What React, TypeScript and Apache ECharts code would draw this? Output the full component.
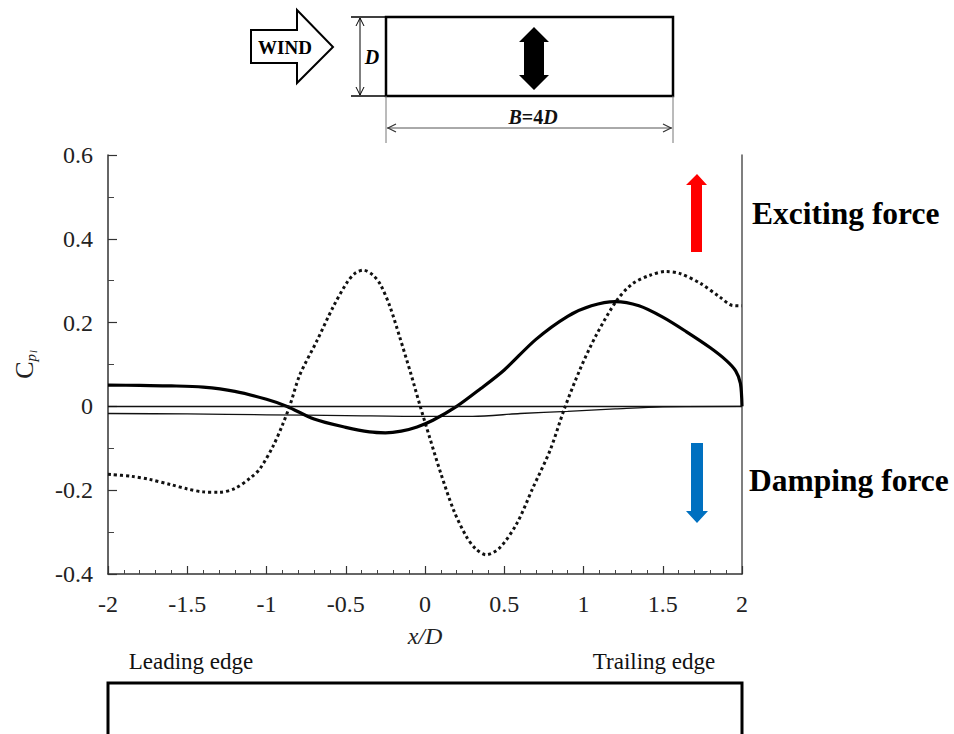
import React, { useEffect, useRef } from "react";
import * as echarts from "echarts";

// x/D positions and Cp values
const solidCurve: [number, number][] = [
  [-2, 0.051], [-1.8, 0.05], [-1.6, 0.049], [-1.4, 0.046], [-1.2, 0.036], [-1.0, 0.017],
  [-0.87, 0], [-0.7, -0.03], [-0.5, -0.05], [-0.35, -0.061], [-0.25, -0.063], [-0.15, -0.059],
  [-0.05, -0.049], [0.05, -0.033], [0.2, 0], [0.35, 0.042], [0.5, 0.087], [0.7, 0.16],
  [0.9, 0.215], [1.05, 0.24], [1.2, 0.25], [1.35, 0.24], [1.5, 0.213], [1.65, 0.178],
  [1.8, 0.14], [1.9, 0.11], [1.96, 0.085], [1.99, 0.055], [2.0, 0],
];

const dottedCurve: [number, number][] = [
  [-2, -0.162], [-1.85, -0.167], [-1.74, -0.174], [-1.6, -0.187], [-1.5, -0.197], [-1.4, -0.204],
  [-1.3, -0.205], [-1.2, -0.196], [-1.1, -0.17], [-1.04, -0.148], [-0.96, -0.096], [-0.9, -0.045],
  [-0.85, 0.005], [-0.79, 0.075], [-0.68, 0.158], [-0.58, 0.237], [-0.49, 0.297], [-0.44, 0.318],
  [-0.39, 0.325], [-0.33, 0.314], [-0.28, 0.29], [-0.22, 0.237], [-0.16, 0.166], [-0.09, 0.079],
  [-0.03, 0], [0.03, -0.075], [0.1, -0.16], [0.18, -0.247], [0.26, -0.31], [0.32, -0.34],
  [0.385, -0.354], [0.47, -0.338], [0.58, -0.279], [0.68, -0.195], [0.79, -0.104], [0.88, -0.005],
  [0.98, 0.09], [1.08, 0.17], [1.21, 0.253], [1.31, 0.293], [1.42, 0.313], [1.52, 0.322],
  [1.61, 0.317], [1.74, 0.293], [1.86, 0.261], [1.94, 0.241], [2.0, 0.24],
];

const thinCurve: [number, number][] = [
  [-2, -0.017], [-1.5, -0.018], [-1, -0.02], [-0.5, -0.022], [0, -0.024], [0.3, -0.024],
  [0.6, -0.017], [0.9, -0.012], [1.2, -0.006], [1.5, -0.001], [2, 0],
];

const xRange = [-2, 2];
const yRange = [-0.4, 0.6];
const xTitle = "x/D";
const yTitle = "{c|C}{p|p}{l|l}";
const edgeLabels = ["Leading edge", "Trailing edge"];
const forceLabels = ["Exciting force", "Damping force"];

const SERIF = "'Times New Roman', 'Liberation Serif', serif";

export default function App() {
  const ref = useRef<HTMLDivElement>(null);
  useEffect(() => {
    if (!ref.current) return;
    const chart = echarts.init(ref.current, undefined, { renderer: "svg" });
    const axisLabelStyle = { fontFamily: SERIF, fontSize: 24, color: "#222" };
    const option: any = {
      animation: false,
      backgroundColor: "#fff",
      grid: { left: 108, top: 155, right: 212, bottom: 160, containLabel: false, outerBoundsMode: "none" },
      xAxis: {
        type: "value",
        min: xRange[0],
        max: xRange[1],
        interval: 0.5,
        name: xTitle,
        nameLocation: "middle",
        nameGap: 50,
        nameTextStyle: { fontFamily: SERIF, fontSize: 24, fontStyle: "italic", color: "#222" },
        axisLine: { show: true, onZero: false, lineStyle: { color: "#333", width: 1.5 } },
        axisTick: { show: true, inside: true, length: 8, lineStyle: { color: "#333", width: 1.2 } },
        minorTick: { show: true, splitNumber: 5, length: 4, lineStyle: { color: "#444", width: 1 } },
        splitLine: { show: false },
        axisLabel: { ...axisLabelStyle, margin: 18 },
      },
      yAxis: [
        {
          type: "value",
          min: yRange[0],
          max: yRange[1],
          interval: 0.2,
          position: "left",
          name: yTitle,
          nameLocation: "middle",
          nameRotate: 90,
          nameGap: 70,
          nameTextStyle: {
            rich: {
              c: { fontFamily: SERIF, fontSize: 26, color: "#222" },
              p: { fontFamily: SERIF, fontStyle: "italic", fontSize: 15, color: "#222", verticalAlign: "bottom", padding: [12, 0, 0, 0] },
              l: { fontFamily: SERIF, fontStyle: "italic", fontSize: 10, color: "#222", verticalAlign: "bottom", padding: [18, 0, 0, 1] },
            },
          },
          axisLine: { show: true, onZero: false, lineStyle: { color: "#333", width: 1.5 } },
          axisTick: { show: true, inside: true, length: 9, lineStyle: { color: "#333", width: 1.2 } },
          minorTick: { show: true, splitNumber: 2, length: 6, lineStyle: { color: "#444", width: 1 } },
          splitLine: { show: false },
          axisLabel: { ...axisLabelStyle, margin: 15 },
        },
        {
          type: "value",
          min: yRange[0],
          max: yRange[1],
          interval: 0.2,
          position: "right",
          axisLine: { show: true, onZero: false, lineStyle: { color: "#555", width: 1.5 } },
          axisTick: { show: false },
          axisLabel: { show: false },
          splitLine: { show: false },
        },
      ],
      series: [
        {
          type: "line",
          data: thinCurve,
          showSymbol: false,
          smooth: 0.3,
          lineStyle: { color: "#111", width: 1.3 },
          markLine: {
            silent: true,
            symbol: "none",
            label: { show: false },
            lineStyle: { color: "#111", width: 1.3, type: "solid" },
            data: [{ yAxis: 0 }],
          },
        },
        {
          type: "line",
          data: dottedCurve,
          showSymbol: false,
          smooth: 0.3,
          lineStyle: { color: "#111", width: 3, type: [3, 3], cap: "butt" },
        },
        {
          type: "line",
          data: solidCurve,
          showSymbol: false,
          smooth: 0.3,
          lineStyle: { color: "#000", width: 3.2 },
        },
      ],
      graphic: [
        // WIND arrow
        {
          type: "polygon",
          shape: { points: [[251, 30], [297, 30], [297, 10], [333, 47], [297, 83], [297, 63], [251, 63]] },
          style: { fill: "#fff", stroke: "#000", lineWidth: 2 },
        },
        {
          type: "text", x: 285, y: 47,
          style: { text: "WIND", fontFamily: SERIF, fontWeight: "bold", fontSize: 19, fill: "#000", align: "center", verticalAlign: "middle" },
        },
        // section box
        {
          type: "rect",
          shape: { x: 386, y: 17, width: 287, height: 79 },
          style: { fill: "transparent", stroke: "#000", lineWidth: 2.5 },
        },
        // D dimension
        { type: "line", shape: { x1: 351, y1: 17, x2: 386, y2: 17 }, style: { stroke: "#000", lineWidth: 1.5 } },
        { type: "line", shape: { x1: 351, y1: 96, x2: 386, y2: 96 }, style: { stroke: "#000", lineWidth: 1.5 } },
        { type: "line", shape: { x1: 360, y1: 18, x2: 360, y2: 95 }, style: { stroke: "#000", lineWidth: 1 } },
        { type: "polyline", shape: { points: [[356, 26], [360, 18], [364, 26]] }, style: { stroke: "#000", lineWidth: 1, fill: "none" } },
        { type: "polyline", shape: { points: [[356, 87], [360, 95], [364, 87]] }, style: { stroke: "#000", lineWidth: 1, fill: "none" } },
        {
          type: "text", x: 372, y: 57,
          style: { text: "D", fontFamily: SERIF, fontWeight: "bold", fontStyle: "italic", fontSize: 20, fill: "#000", align: "center", verticalAlign: "middle" },
        },
        // vertical motion double arrow
        {
          type: "polygon",
          shape: { points: [[534, 27], [549, 42], [544, 42], [544, 75], [549, 75], [534, 90], [519, 75], [524, 75], [524, 42], [519, 42]] },
          style: { fill: "#000" },
        },
        // B=4D dimension
        { type: "line", shape: { x1: 386, y1: 96, x2: 386, y2: 143 }, style: { stroke: "#777", lineWidth: 1 } },
        { type: "line", shape: { x1: 673, y1: 96, x2: 673, y2: 143 }, style: { stroke: "#777", lineWidth: 1 } },
        { type: "line", shape: { x1: 387, y1: 128, x2: 672, y2: 128 }, style: { stroke: "#555", lineWidth: 1 } },
        { type: "polyline", shape: { points: [[396, 124], [388, 128], [396, 132]] }, style: { stroke: "#333", lineWidth: 1.2, fill: "none" } },
        { type: "polyline", shape: { points: [[663, 124], [671, 128], [663, 132]] }, style: { stroke: "#333", lineWidth: 1.2, fill: "none" } },
        {
          type: "text", x: 533, y: 117,
          style: {
            text: "{i|B}{n|=4}{i|D}",
            align: "center", verticalAlign: "middle",
            rich: {
              i: { fontFamily: SERIF, fontWeight: "bold", fontStyle: "italic", fontSize: 20, fill: "#111" },
              n: { fontFamily: SERIF, fontWeight: "bold", fontSize: 20, fill: "#111" },
            },
          },
        },
        // exciting / damping arrows
        {
          type: "polygon",
          shape: { points: [[697, 174], [707, 185], [702, 185], [702, 252], [691, 252], [691, 185], [686, 185]] },
          style: { fill: "#ff0000" },
        },
        {
          type: "polygon",
          shape: { points: [[691, 443], [703, 443], [703, 511], [708, 511], [697, 523], [686, 511], [691, 511]] },
          style: { fill: "#0070c0" },
        },
        {
          type: "text", x: 752, y: 213,
          style: { text: forceLabels[0], fontFamily: SERIF, fontWeight: "bold", fontSize: 31.5, fill: "#000", align: "left", verticalAlign: "middle" },
        },
        {
          type: "text", x: 749, y: 480,
          style: { text: forceLabels[1], fontFamily: SERIF, fontWeight: "bold", fontSize: 31.5, fill: "#000", align: "left", verticalAlign: "middle" },
        },
        // edge labels
        {
          type: "text", x: 191, y: 661,
          style: { text: edgeLabels[0], fontFamily: SERIF, fontSize: 23, fill: "#111", align: "center", verticalAlign: "middle" },
        },
        {
          type: "text", x: 654, y: 661,
          style: { text: edgeLabels[1], fontFamily: SERIF, fontSize: 23, fill: "#111", align: "center", verticalAlign: "middle" },
        },
        // bottom section outline
        {
          type: "rect",
          shape: { x: 108, y: 683, width: 634, height: 100 },
          style: { fill: "transparent", stroke: "#000", lineWidth: 3 },
        },
      ],
    };
    chart.setOption(option);
    return () => chart.dispose();
  }, []);
  return (
    <div
      ref={ref}
      style={{ position: "fixed", left: 0, top: 0, width: 954, height: 734, background: "#fff" }}
    />
  );
}
